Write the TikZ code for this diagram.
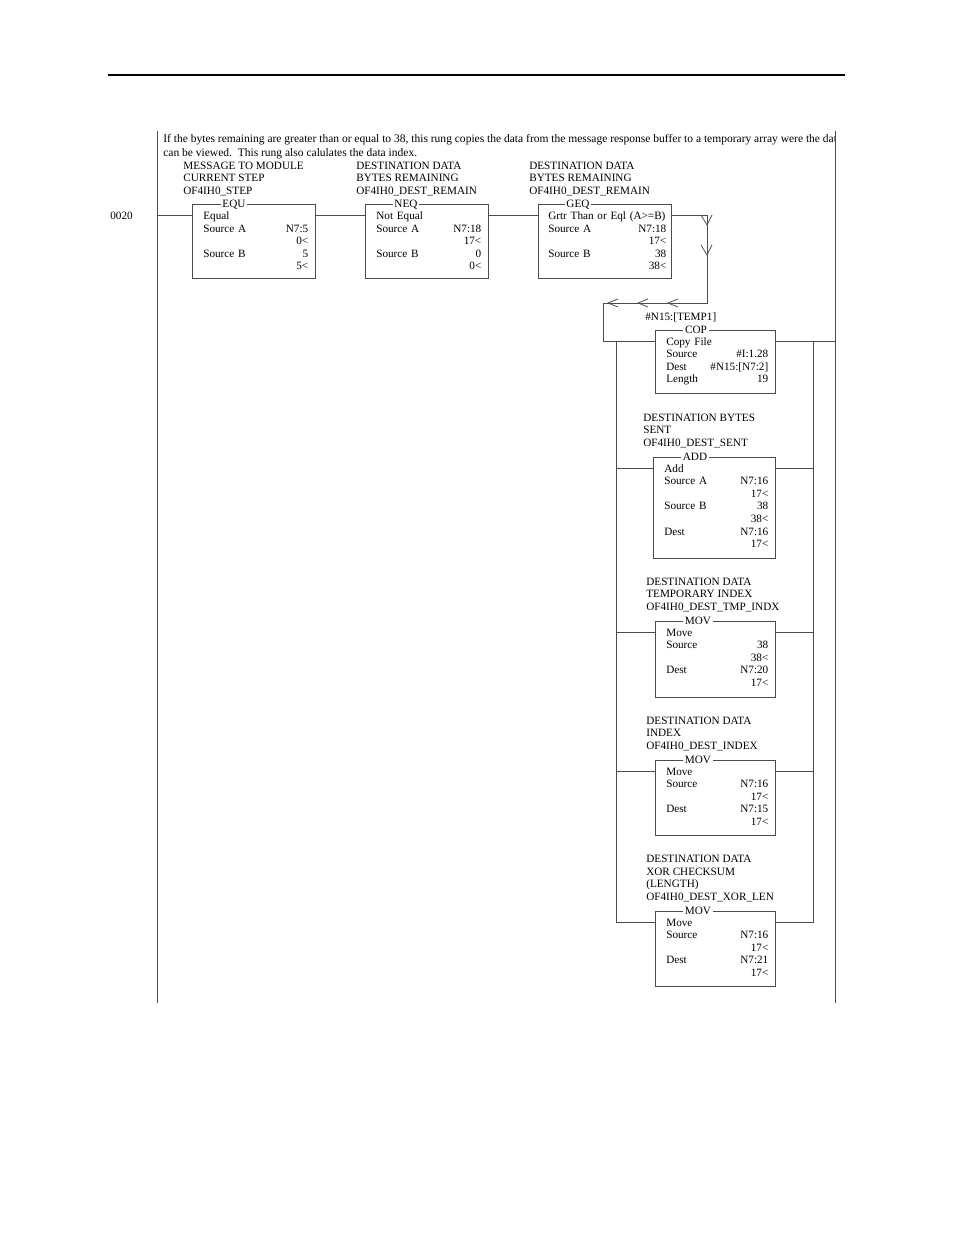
\documentclass[tikz,border=0pt]{standalone}
\usepackage{fontspec}
\setmainfont{Liberation Serif}
\usetikzlibrary{positioning}
\newdimen\px
\px=0.6428pt
\newcommand{\rcol}{\mbox{}\hfill}
\tikzstyle{instr} = [draw=black!70, rectangle, line width=0.5pt, inner sep=0pt, anchor=north west]
\tikzstyle{ttl} = [fill=white, anchor=base, inner xsep=1.2pt, inner ysep=0.4pt]
\tikzstyle{txt} = [inner sep=0pt, align=left, anchor=base west]
\tikzstyle{wire} = [draw=black!70, line width=0.5pt]
\tikzstyle{rail} = [draw=black!70, line width=0.6pt]

\begin{document}
\begin{tikzpicture}[x=0.6428pt, y=-0.6428pt, font=\fontsize{7.2}{8.1}\selectfont]
	\useasboundingbox (0,0) rectangle (954,1235);
	\draw [line width=0.8pt] (108,75) -- (845,75);
	% rails
	\coordinate (lt) at (157,131);
	\coordinate (lb) at (157,1003);
	\coordinate (rt) at (835,131);
	\coordinate (rb) at (835,1003);
	\coordinate (blx) at (616,0);
	\coordinate (brx) at (813,0);
	\draw [rail] (lt) -- (lb);
	\draw [rail] (rt) -- (rb);
	\begin{scope}
	\clip (158,128) rectangle (834.5,170);
	\node (cmt) [txt, font=\fontsize{7.4}{8.36}\selectfont] at (163,156) {If the bytes remaining are greater than or equal to 38, this rung copies the data from the message response buffer to a temporary array were the data\\can be viewed.\ \ This rung also calulates the data index.};
	\end{scope}
	\node (num) [txt] at (110,219) {0020};
	% instruction boxes
	\node (equ) [instr, minimum width=123\px, minimum height=74\px] at (192,204) {};
	\node (neq) [instr, minimum width=123\px, minimum height=74\px] at (365,204) {};
	\node (geq) [instr, minimum width=133\px, minimum height=74\px] at (538,204) {};
	\node (cop) [instr, minimum width=120\px, minimum height=63\px] at (655,329.5) {};
	\node (add) [instr, minimum width=122\px, minimum height=101\px] at (653,456.5) {};
	\node (mova) [instr, minimum width=120\px, minimum height=76\px] at (655,620.5) {};
	\node (movb) [instr, minimum width=120\px, minimum height=75\px] at (655,759.5) {};
	\node (movc) [instr, minimum width=120\px, minimum height=75\px] at (655,910.5) {};
	% titles
	\node (equ-t) [ttl] at ([shift={(42,3.5)}]equ.north west) {EQU};
	\node (neq-t) [ttl] at ([shift={(41,3.5)}]neq.north west) {NEQ};
	\node (geq-t) [ttl] at ([shift={(40,3.5)}]geq.north west) {GEQ};
	\node (cop-t) [ttl] at ([shift={(41,3.5)}]cop.north west) {COP};
	\node (add-t) [ttl] at ([shift={(42,3.5)}]add.north west) {ADD};
	\node (mova-t) [ttl] at ([shift={(43,3.5)}]mova.north west) {MOV};
	\node (movb-t) [ttl] at ([shift={(43,3.5)}]movb.north west) {MOV};
	\node (movc-t) [ttl] at ([shift={(43,3.5)}]movc.north west) {MOV};
	% tag labels
	\node (equ-l) [txt] at ([shift={(-9,-9.5)}]equ.north west) {MESSAGE TO MODULE\\CURRENT STEP\\OF4IH0\_STEP};
	\node (neq-l) [txt] at ([shift={(-9,-9.5)}]neq.north west) {DESTINATION DATA\\BYTES REMAINING\\OF4IH0\_DEST\_REMAIN};
	\node (geq-l) [txt] at ([shift={(-9,-9.5)}]geq.north west) {DESTINATION DATA\\BYTES REMAINING\\OF4IH0\_DEST\_REMAIN};
	\node (cop-l) [txt] at ([shift={(-10,-9.5)}]cop.north west) {\#N15:[TEMP1]};
	\node (add-l) [txt] at ([shift={(-10,-10)}]add.north west) {DESTINATION BYTES\\SENT\\OF4IH0\_DEST\_SENT};
	\node (mova-l) [txt] at ([shift={(-9,-10)}]mova.north west) {DESTINATION DATA\\TEMPORARY INDEX\\OF4IH0\_DEST\_TMP\_INDX};
	\node (movb-l) [txt] at ([shift={(-9,-10)}]movb.north west) {DESTINATION DATA\\INDEX\\OF4IH0\_DEST\_INDEX};
	\node (movc-l) [txt] at ([shift={(-9,-10)}]movc.north west) {DESTINATION DATA\\XOR CHECKSUM\\(LENGTH)\\OF4IH0\_DEST\_XOR\_LEN};
	% box contents
	\node (equ-c) [txt, text width=105\px] at ([shift={(11,15.5)}]equ.north west) {Equal\\Source A\rcol N7:5\\\rcol 0<\\Source B\rcol 5\\\rcol 5<};
	\node (neq-c) [txt, text width=105\px] at ([shift={(11,15.5)}]neq.north west) {Not Equal\\Source A\rcol N7:18\\\rcol 17<\\Source B\rcol 0\\\rcol 0<};
	\node (geq-c) [txt, text width=118\px] at ([shift={(10,15.5)}]geq.north west) {Grtr Than or Eql (A>=B)\\Source A\rcol N7:18\\\rcol 17<\\Source B\rcol 38\\\rcol 38<};
	\node (cop-c) [txt, text width=102\px] at ([shift={(11,15.5)}]cop.north west) {Copy File\\Source\rcol \#I:1.28\\Dest\rcol \#N15:[N7:2]\\Length\rcol 19};
	\node (add-c) [txt, text width=104\px] at ([shift={(11,15.5)}]add.north west) {Add\\Source A\rcol N7:16\\\rcol 17<\\Source B\rcol 38\\\rcol 38<\\Dest\rcol N7:16\\\rcol 17<};
	\node (mova-c) [txt, text width=102\px] at ([shift={(11,15.5)}]mova.north west) {Move\\Source\rcol 38\\\rcol 38<\\Dest\rcol N7:20\\\rcol 17<};
	\node (movb-c) [txt, text width=102\px] at ([shift={(11,15.5)}]movb.north west) {Move\\Source\rcol N7:16\\\rcol 17<\\Dest\rcol N7:15\\\rcol 17<};
	\node (movc-c) [txt, text width=102\px] at ([shift={(11,15.5)}]movc.north west) {Move\\Source\rcol N7:16\\\rcol 17<\\Dest\rcol N7:21\\\rcol 17<};
	% wire points
	\foreach \b in {equ,neq,geq,cop,add,mova,movb,movc} {
		\coordinate (\b-in) at ([shift={(0,11.5)}]\b.north west);
		\coordinate (\b-out) at ([shift={(0,11.5)}]\b.north east);
	}
	\coordinate (wa) at (707,303);
	\coordinate (wb) at (603,303);
	\draw [wire] (lt |- equ-in) -- (equ-in);
	\draw [wire] (equ-out) -- (neq-in);
	\draw [wire] (neq-out) -- (geq-in);
	\draw [wire] (geq-out) -| (wa) -- (wb) |- (cop-in);
	\draw [wire] (cop-out) -- (cop-out -| rt);
	\draw [wire] (blx |- cop-in) |- (movc-in);
	\draw [wire] (brx |- cop-out) |- (movc-out);
	\foreach \b in {add,mova,movb} {
		\draw [wire] (blx |- \b-in) -- (\b-in);
		\draw [wire] (\b-out) -- (brx |- \b-out);
	}
	% wrap marks
	\foreach \y in {215,245}
		\draw [wire] (701,\y) -- (707,\y+10) -- (712,\y);
	\foreach \x in {608,638,668}
		\draw [wire] (\x+10,299) -- (\x,303) -- (\x+10,307);
\end{tikzpicture}
\end{document}
